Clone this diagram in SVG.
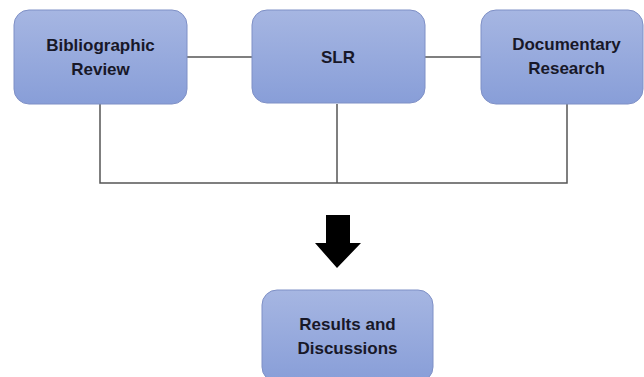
<svg xmlns="http://www.w3.org/2000/svg" width="644" height="377" viewBox="0 0 644 377">
  <defs>
    <linearGradient id="boxFill" x1="0" y1="0" x2="0" y2="1">
      <stop offset="0" stop-color="#a6b6e2"/>
      <stop offset="1" stop-color="#889ed8"/>
    </linearGradient>
    <style>
      .box { fill: url(#boxFill); stroke: #7f90c6; stroke-width: 1; }
      .label { font-family: "Liberation Sans", Arial, sans-serif; font-weight: bold; font-size: 17px; fill: #181828; text-anchor: middle; }
      .conn { fill: none; stroke: #555555; stroke-width: 1.5; }
    </style>
  </defs>
  <rect width="644" height="377" fill="#ffffff"/>

  <g id="connectors">
    <line class="conn" x1="187" y1="57" x2="252" y2="57"/>
    <line class="conn" x1="425" y1="57" x2="481" y2="57"/>
    <polyline class="conn" points="100,104 100,183 567,183 567,104"/>
    <line class="conn" x1="337" y1="104" x2="337" y2="183"/>
    <polygon points="326,215 350,215 350,243 361,243 337,268 315,243 326,243" fill="#000000"/>
  </g>

  <g id="bibliographic-review">
    <rect class="box" x="14" y="10" width="173" height="94" rx="15"/>
    <text class="label" x="100.5" y="51">Bibliographic</text>
    <text class="label" x="100.5" y="75">Review</text>
  </g>

  <g id="slr">
    <rect class="box" x="252" y="10" width="173" height="93" rx="15"/>
    <text class="label" x="338" y="63">SLR</text>
  </g>

  <g id="documentary-research">
    <rect class="box" x="481" y="10" width="162" height="94" rx="15"/>
    <text class="label" x="566.5" y="50">Documentary</text>
    <text class="label" x="566.5" y="74">Research</text>
  </g>

  <g id="results-and-discussions">
    <rect class="box" x="262" y="290" width="171" height="92" rx="15"/>
    <text class="label" x="347.5" y="330">Results and</text>
    <text class="label" x="347.5" y="354">Discussions</text>
  </g>
</svg>
